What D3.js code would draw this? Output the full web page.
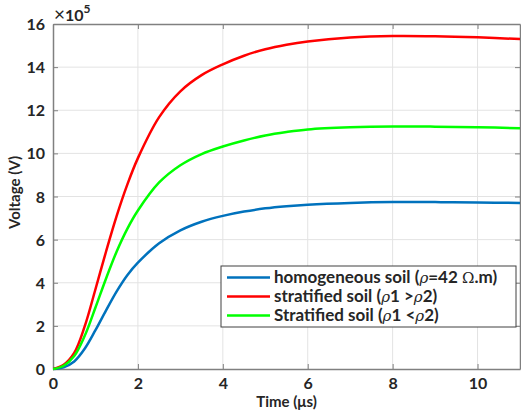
<!DOCTYPE html>
<html lang="en">
<head>
  <meta charset="utf-8">
  <script src="https://d3js.org/d3.v7.min.js"></script>
  <style>
    body { margin: 0; background: #fff; }
    text { font-family: Lato, "Open Sans", sans-serif; font-weight: bold; fill: #262626; }
  </style>
</head>
<body>
  <div id="chart"></div>
  <script>
    // time in microseconds, voltages in units of 10^5 V
    var times = [0, 0.25, 0.5, 0.75, 1, 1.25, 1.5, 1.75, 2, 2.5, 3, 3.5, 4, 4.5, 5, 5.5, 6, 7, 8, 9, 10, 11];
    var homogeneous = [0, 0.08, 0.35, 0.95, 1.8, 2.72, 3.6, 4.35, 4.93, 5.83, 6.43, 6.83, 7.1, 7.3, 7.45, 7.55, 7.62, 7.7, 7.74, 7.74, 7.72, 7.7];
    var stratHigh = [0, 0.2, 0.75, 2.0, 3.7, 5.45, 7.1, 8.55, 9.78, 11.68, 12.88, 13.63, 14.13, 14.53, 14.83, 15.04, 15.19, 15.37, 15.44, 15.43, 15.38, 15.3];
    var stratLow = [0, 0.15, 0.6, 1.55, 2.85, 4.2, 5.45, 6.5, 7.35, 8.65, 9.45, 9.97, 10.32, 10.6, 10.83, 10.99, 11.11, 11.21, 11.25, 11.24, 11.21, 11.17];
    var xTicks = [0, 2, 4, 6, 8, 10];
    var yTicks = [0, 2, 4, 6, 8, 10, 12, 14, 16];

    var series = [
      { name: 'homogeneous', values: homogeneous, color: '#0072bd' },
      { name: 'high', values: stratHigh, color: '#ff0000' },
      { name: 'low', values: stratLow, color: '#00ff00' }
    ];

    var width = 521, height = 415;
    var pL = 53, pR = 520, pT = 24, pB = 369;

    var svg = d3.select('#chart').append('svg')
      .attr('width', width)
      .attr('height', height);

    var x = d3.scaleLinear().domain([0, 11]).range([pL, pR]);
    var y = d3.scaleLinear().domain([0, 16]).range([pB, pT]);

    // grid
    svg.append('g').selectAll('line').data(xTicks.slice(1)).enter().append('line')
      .attr('x1', d => x(d)).attr('x2', d => x(d))
      .attr('y1', pT).attr('y2', pB)
      .attr('stroke', '#e3e3e3').attr('stroke-width', 1);
    svg.append('g').selectAll('line').data(yTicks.slice(1, -1)).enter().append('line')
      .attr('x1', pL).attr('x2', pR)
      .attr('y1', d => y(d)).attr('y2', d => y(d))
      .attr('stroke', '#e3e3e3').attr('stroke-width', 1);

    // axes (ticks inside, like matlab)
    var xAxis = svg.append('g')
      .attr('transform', 'translate(0,' + pB + ')')
      .call(d3.axisBottom(x).tickValues(xTicks).tickSizeInner(-5).tickSizeOuter(0).tickPadding(9));
    var yAxis = svg.append('g')
      .attr('transform', 'translate(' + pL + ',0)')
      .call(d3.axisLeft(y).tickValues(yTicks).tickSizeInner(-5).tickSizeOuter(0).tickPadding(8));
    var xTop = svg.append('g')
      .attr('transform', 'translate(0,' + pT + ')')
      .call(d3.axisTop(x).tickValues(xTicks).tickSizeInner(-5).tickSizeOuter(0).tickFormat(''));
    var yRight = svg.append('g')
      .attr('transform', 'translate(' + pR + ',0)')
      .call(d3.axisRight(y).tickValues(yTicks).tickSizeInner(-5).tickSizeOuter(0).tickFormat(''));

    [xAxis, yAxis, xTop, yRight].forEach(function (g) {
      g.select('.domain').attr('stroke', '#808080').attr('stroke-width', 1.5);
      g.selectAll('.tick line').attr('stroke', '#808080');
      g.selectAll('.tick text')
        .style('font-family', 'Lato, sans-serif')
        .style('font-weight', 'bold')
        .style('font-size', '16px')
        .attr('fill', '#262626');
    });
    yAxis.selectAll('.tick text').attr('dy', '0.35em');

    // curves
    var line = d3.line()
      .x(function (d, i) { return x(times[i]); })
      .y(function (d) { return y(d); })
      .curve(d3.curveCatmullRom.alpha(0.5));

    svg.append('defs').append('clipPath').attr('id', 'clip')
      .append('rect').attr('x', pL).attr('y', pT - 2).attr('width', pR - pL).attr('height', pB - pT + 4);

    svg.append('g').attr('clip-path', 'url(#clip)')
      .selectAll('path').data(series).enter().append('path')
      .attr('d', d => line(d.values))
      .attr('fill', 'none')
      .attr('stroke', d => d.color)
      .attr('stroke-width', 2.5);

    // exponent label
    var exp = svg.append('text').attr('x', 54).attr('y', 21).style('font-size', '16px');
    exp.append('tspan').text('\u00d7').style('font-weight', 'normal').style('font-size', '19px');
    exp.append('tspan').text('10');
    exp.append('tspan').text('5').attr('dy', -8).style('font-size', '12px');

    // axis labels
    svg.append('text')
      .attr('x', (pL + pR) / 2).attr('y', 407)
      .attr('text-anchor', 'middle')
      .style('font-size', '15px')
      .text('Time (\u03bcs)');
    svg.append('text')
      .attr('transform', 'translate(20,' + ((pT + pB) / 2 - 4) + ') rotate(-90)')
      .attr('text-anchor', 'middle')
      .style('font-size', '15px')
      .text('Voltage (V)');

    // legend
    var legend = svg.append('g');
    legend.append('rect')
      .attr('x', 221).attr('y', 266).attr('width', 295).attr('height', 61)
      .attr('fill', '#fff').attr('stroke', '#404040').attr('stroke-width', 1);

    var legendItems = [
      { color: '#0072bd', parts: [['homogeneous soil (', 0], ['\u03c1', 1], ['=42 ', 0], ['\u03a9', 2], ['.m)', 0]] },
      { color: '#ff0000', parts: [['stratified soil (', 0], ['\u03c1', 1], ['1 >', 0], ['\u03c1', 1], ['2)', 0]] },
      { color: '#00ff00', parts: [['Stratified soil (', 0], ['\u03c1', 1], ['1 <', 0], ['\u03c1', 1], ['2)', 0]] }
    ];

    legendItems.forEach(function (item, i) {
      var ly = 277.5 + i * 19;
      legend.append('line')
        .attr('x1', 227).attr('x2', 270)
        .attr('y1', ly).attr('y2', ly)
        .attr('stroke', item.color).attr('stroke-width', 2.5);
      var t = legend.append('text')
        .attr('x', 274).attr('y', ly + 5.5)
        .style('font-size', '17px');
      item.parts.forEach(function (p) {
        var span = t.append('tspan').text(p[0]);
        if (p[1] === 1) span.style('font-family', '"DejaVu Serif", serif').style('font-style', 'italic').style('font-weight', 'normal').style('font-size', '15px');
        if (p[1] === 2) span.style('font-family', '"DejaVu Serif", serif').style('font-weight', 'normal').style('font-size', '15px');
      });
    });
  </script>
</body>
</html>
